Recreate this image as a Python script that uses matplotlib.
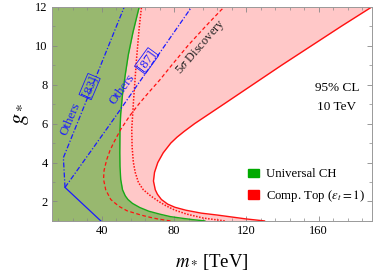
import matplotlib
matplotlib.use("Agg")
import matplotlib.pyplot as plt
from matplotlib.patches import Patch

plt.rcParams["font.family"] = "serif"
plt.rcParams["font.serif"] = ["Liberation Serif", "DejaVu Serif"]
plt.rcParams["mathtext.fontset"] = "stix"

# Universal CH boundary (green)
g_univ = [1.0, 1.07, 1.13, 1.22, 1.35, 1.5, 1.69, 1.9, 2.1, 2.29, 2.6, 3.13, 3.8, 4.5,
          5.7, 6.5, 7.5, 8.5, 9.53, 10.7, 11.83, 12.0]
m_univ = [97, 90, 85, 78, 72, 66, 61, 57, 54.5, 53, 51.5, 50.5, 50.1, 50.0,
          50.1, 50.5, 51.5, 53.0, 54.7, 57.3, 60.3, 60.8]

# Composite top boundary (red solid)
g_top = [1.0, 1.1, 1.2, 1.3, 1.4, 1.55, 1.7, 1.86, 2.1, 2.37, 2.6, 3.05, 3.5, 4.0,
         4.5, 5.0, 5.3, 5.6, 6.0, 7.0, 8.0, 9.0, 10.0, 11.0, 12.0]
m_top = [130, 120, 112, 104, 95, 86.5, 80.5, 76.5, 73, 70.8, 69.6, 68.6, 69.2, 71,
         74, 78.2, 81.6, 85.6, 91.4, 107.5, 123.5, 139.5, 156, 172.5, 189.5]

# 5 sigma discovery (red dashed)
g_disc = [1.0, 1.1, 1.18, 1.27, 1.35, 1.52, 1.75, 2.1, 2.6, 3.14, 3.6, 4.16, 4.6, 5.0,
          5.7, 6.4, 7.0, 7.6, 8.25, 9.0, 10.04, 11.0, 11.83, 12.0]
m_disc = [78, 71, 67, 63, 60, 54, 49.5, 45, 42.2, 41, 41.3, 42.8, 44.5, 46.5,
          50.5, 55.5, 60.5, 66, 72.2, 78.7, 88, 97.5, 106, 108]

# red dotted
g_dot = [1.0, 1.15, 1.35, 1.55, 1.78, 2.0, 2.29, 2.6, 2.97, 3.5, 4.0, 4.8, 5.7, 7.2,
         9.27, 11.0, 12.0]
m_dot = [108, 96, 87, 80.5, 75.5, 71.5, 67, 63, 60.3, 58.5, 57.5, 56.8, 56.6, 57.6,
         59.2, 60.8, 62.0]

# Others [83], [87] (blue)
g_blue = [1.0, 2.72]
m_blue = [39.5, 19.7]
g_o83 = [2.72, 4.25, 12.0]
m_o83 = [19.7, 18.8, 52.5]
g_o87 = [2.72, 6.2, 12.0]
m_o87 = [19.7, 46.4, 89.8]

xmin, xmax = 12.5, 189.5

fig = plt.figure(figsize=(3.74, 2.8), dpi=100)
ax = fig.add_axes([0.139, 0.211, 0.856, 0.765])

ax.fill_betweenx(g_top, xmin, m_top, color="#ffc8c8", lw=0)
ax.fill_betweenx(g_univ, xmin, m_univ, color="#98b86f", lw=0)

ax.plot(m_top, g_top, color="#ff1010", lw=1.0)
ax.plot(m_univ, g_univ, color="#18a818", lw=1.0)
ax.plot(m_disc, g_disc, color="#ff1010", lw=0.9, ls=(0, (3, 2)))
ax.plot(m_dot, g_dot, color="#ff1010", lw=1.1, ls=(0, (1, 1)))
ax.plot(m_blue, g_blue, color="#1a1aff", lw=0.9)
ax.plot(m_o83, g_o83, color="#1a1aff", lw=0.9, ls=(0, (4, 1.5, 1, 1.5)))
ax.plot(m_o87, g_o87, color="#1a1aff", lw=0.9, ls=(0, (4, 1.5, 1, 1.5)))

box = dict(boxstyle="square,pad=0.05", fc="none", ec="#1a1aff", lw=0.6)
ax.text(23.0, 6.25, "Others", color="#1a1aff", fontsize=9.4, rotation=67,
        ha="center", va="center", rotation_mode="anchor")
ax.text(33.3, 7.9, "[83]", color="#1a1aff", fontsize=9.4, rotation=67,
        ha="center", va="center", rotation_mode="anchor", bbox=box)
ax.text(51.6, 7.75, "Others", color="#1a1aff", fontsize=9.4, rotation=54,
        ha="center", va="center", rotation_mode="anchor")
ax.text(64.8, 9.22, "[87]", color="#1a1aff", fontsize=9.4, rotation=54,
        ha="center", va="center", rotation_mode="anchor", bbox=box)
ax.text(95, 9.94, r"5$\sigma$ Discovery", color="#222222", fontsize=9, rotation=49,
        ha="center", va="center", rotation_mode="anchor")

ax.text(170, 7.85, "95% CL", fontsize=9.5, ha="center", va="center")
ax.text(170, 6.85, "10 TeV", fontsize=9.5, ha="center", va="center")

handles = [Patch(color="#00aa00", label="Universal CH"),
           Patch(color="#ff0000", label=r"Comp. Top ($\epsilon_t = 1$)")]
ax.legend(handles=handles, loc="lower right", bbox_to_anchor=(1.0, 0.043),
          frameon=False, fontsize=9.2, handlelength=0.9, handleheight=0.6,
          handletextpad=0.5, labelspacing=0.6, borderaxespad=0.2)

ax.set_xlim(xmin, xmax)
ax.set_ylim(1.0, 12.0)
ax.set_xticks([40, 80, 120, 160])
ax.set_xticks(range(16, 190, 8), minor=True)
ax.set_yticks([2, 4, 6, 8, 10, 12])
ax.set_yticks(range(1, 13), minor=True)
ax.tick_params(which="both", direction="in", top=True, right=True,
               labelsize=9, colors="#888888", labelcolor="black", pad=3)
ax.tick_params(which="major", length=3.5, width=0.6)
ax.tick_params(which="minor", length=2, width=0.5)
for s in ax.spines.values():
    s.set_color("#999999")
    s.set_linewidth(0.7)

ax.set_xlabel(r"$m_*\,$[TeV]", fontsize=13.5, labelpad=11)
ax.set_ylabel(r"$g_*$", fontsize=16, rotation=90, labelpad=3)

fig.savefig("out.png", dpi=100)
